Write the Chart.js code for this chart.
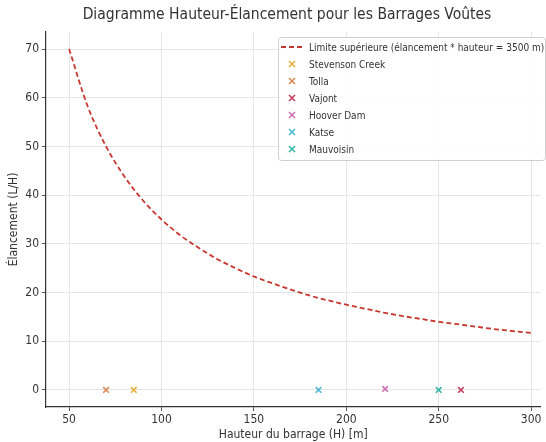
<!DOCTYPE html>
<html><head><meta charset="utf-8">
<script src="https://cdn.jsdelivr.net/npm/chart.js@4"></script>
<style>html,body{margin:0;padding:0;background:#fff}#c{display:block}</style>
</head><body>
<canvas id="c" width="546" height="442"></canvas>
<script>
const curveLabel = "Limite supérieure (élancement * hauteur = 3500 m)";
const curveH = [50,60,70,80,90,100,110,120,130,140,150,160,170,180,190,200,210,220,230,240,250,260,270,280,290,300];
const curveE = [70,58.3,50,43.8,38.9,35,31.8,29.2,26.9,25,23.3,21.9,20.6,19.4,18.4,17.5,16.7,15.9,15.2,14.6,14,13.5,13,12.5,12.1,11.7];
const damNames = ["Stevenson Creek","Tolla","Vajont","Hoover Dam","Katse","Mauvoisin"];
const damHeights = [85,70,262,221,185,250];
const damElancement = [0,0,0,0.2,0,0];
const damColors = ["#e6b23c","#d98a55","#c2405e","#d070b4","#4cbad6","#36b5a8"];
const xTicks = [50,100,150,200,250,300];
const yTicks = [0,10,20,30,40,50,60,70];
const FONT = "'DejaVu Sans Condensed','Liberation Sans Narrow','DejaVu Sans',sans-serif";

const datasets = [{
  label: curveLabel, type:'line',
  data: curveH.map((h,i)=>({x:h,y:curveE[i]})),
  borderColor:'#c8372f', borderWidth:1.8, borderDash:[5,3],
  pointRadius:0, cubicInterpolationMode:'monotone', fill:false
}];
damNames.forEach((n,i)=>datasets.push({
  label:n, type:'scatter',
  data:[{x:damHeights[i], y:damElancement[i]}],
  pointStyle:'crossRot', pointRadius:4, borderWidth:1.6,
  borderColor:damColors[i], backgroundColor:damColors[i]
}));

const deco = {
  id:'deco',
  afterDraw(chart){
    const ctx = chart.ctx;
    ctx.save();
    ctx.fillStyle = '#333';
    ctx.font = "15.5px " + FONT;
    ctx.textAlign='center'; ctx.textBaseline='middle';
    ctx.fillText("Diagramme Hauteur-Élancement pour les Barrages Voûtes", 287, 15);
    // legend
    const bx=278, by=37, bw=267, bh=123;
    ctx.fillStyle='rgba(255,255,255,0.85)';
    ctx.strokeStyle='#d0d0d0'; ctx.lineWidth=1;
    ctx.beginPath(); ctx.roundRect(bx+0.5,by+0.5,bw,bh,3); ctx.fill(); ctx.stroke();
    ctx.font = "10px " + FONT; ctx.textAlign='left'; ctx.textBaseline='middle';
    chart.data.datasets.forEach((ds,i)=>{
      const y = by+10+i*17;
      if(i===0){
        ctx.strokeStyle=ds.borderColor; ctx.lineWidth=1.8; ctx.setLineDash([5,3]);
        ctx.beginPath(); ctx.moveTo(bx+3,y); ctx.lineTo(bx+24,y); ctx.stroke(); ctx.setLineDash([]);
      } else {
        ctx.strokeStyle=ds.borderColor; ctx.lineWidth=1.6;
        const cx=bx+14, r=3;
        ctx.beginPath(); ctx.moveTo(cx-r,y-r); ctx.lineTo(cx+r,y+r); ctx.moveTo(cx+r,y-r); ctx.lineTo(cx-r,y+r); ctx.stroke();
      }
      ctx.fillStyle='#333';
      ctx.fillText(ds.label, bx+31, y+1);
    });
    ctx.restore();
  }
};

new Chart(document.getElementById('c'), {
  data:{datasets},
  options:{
    responsive:false, animation:false,
    layout:{padding:{top:32,right:0,left:7,bottom:0}},
    plugins:{legend:{display:false}, title:{display:false}, tooltip:{enabled:false}},
    scales:{
      x:{type:'linear', min:37.5, max:305,
        afterBuildTicks(s){ s.ticks = xTicks.map(v=>({value:v})); },
        afterFit(s){ s.height = 35; },
        ticks:{color:'#333', font:{size:12, family:FONT}, padding:2},
        grid:{color:'#e6e6e6', tickColor:'#555', tickLength:4},
        border:{color:'#333', width:1.2},
        title:{display:true, text:'Hauteur du barrage (H) [m]', color:'#333', font:{size:12, family:FONT}, padding:{top:0,bottom:0}}
      },
      y:{type:'linear', min:-3.5, max:73.5,
        afterBuildTicks(s){ s.ticks = yTicks.map(v=>({value:v})); },
        afterFit(s){ s.width = 39; },
        ticks:{color:'#333', font:{size:12, family:FONT}, padding:3},
        grid:{color:'#e6e6e6', tickColor:'#555', tickLength:4},
        border:{color:'#333', width:1.2},
        title:{display:true, text:'Élancement (L/H)', color:'#333', font:{size:12, family:FONT}, padding:{top:0,bottom:2}}
      }
    }
  },
  plugins:[deco]
});
</script>
</body></html>
